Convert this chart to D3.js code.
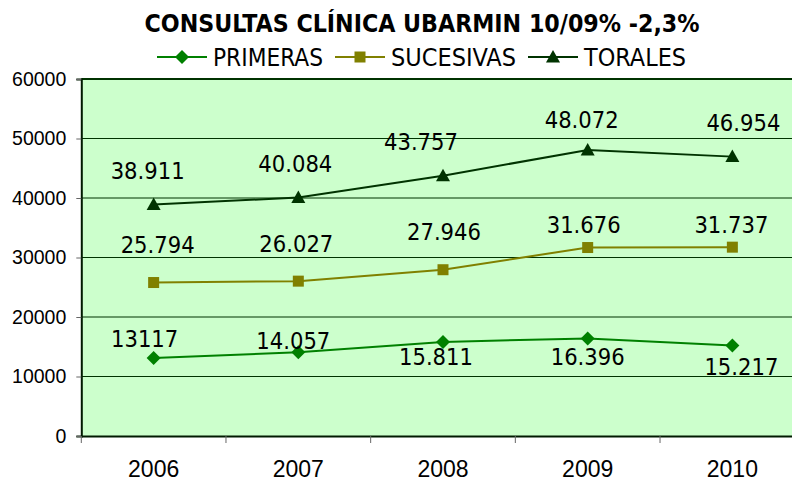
<!DOCTYPE html>
<html><head><meta charset="utf-8">
<script src="https://cdn.jsdelivr.net/npm/d3@7"></script>
<style>
body{margin:0;background:#fff;}
svg{display:block;font-family:"DejaVu Sans Condensed","DejaVu Sans",sans-serif;}
</style></head>
<body>
<svg id="c" width="792" height="484"></svg>
<script>
const years = ["2006","2007","2008","2009","2010"];
const primeras = [13117, 14057, 15811, 16396, 15217];
const sucesivas = [25794, 26027, 27946, 31676, 31737];
const torales = [38911, 40084, 43757, 48072, 46954];
const primerasLabels = ["13117","14.057","15.811","16.396","15.217"];
const sucesivasLabels = ["25.794","26.027","27.946","31.676","31.737"];
const toralesLabels = ["38.911","40.084","43.757","48.072","46.954"];
const yTicks = [0,10000,20000,30000,40000,50000,60000];
const title = "CONSULTAS CLÍNICA UBARMIN 10/09% -2,3%";

// label placement (layout, not data)
const primerasOff = [[-9,-19],[-5,-12],[-7,15],[0,18],[9,21]];
const sucesivasOff = [[4,-38],[-2,-38],[1,-38],[-4,-23],[-1,-23]];
const toralesOff = [[-6,-34],[-3,-34],[-22,-34],[-6,-30],[11,-34]];

const svg = d3.select("#c");
const L = 81.3, R = 804.7, T = 79, B = 436;
const x = d3.scaleBand().domain(years).range([L, R]).padding(0);
const y = d3.scaleLinear().domain([0,60000]).range([B, T]);

svg.append("rect").attr("x",L).attr("y",T).attr("width",R-L).attr("height",B-T).attr("fill","#CCFFCC");

// gridlines
svg.append("g").selectAll("line").data(yTicks.filter(d=>d>0)).join("line")
  .attr("x1",L).attr("x2",R).attr("y1",d=>y(d)).attr("y2",d=>y(d))
  .attr("stroke","#003300").attr("stroke-width",d=>d===60000?2:1);

// y axis
const yAxis = svg.append("g").attr("transform",`translate(${L},0)`)
  .call(d3.axisLeft(y).tickValues(yTicks).tickFormat(d=>String(d)).tickSize(5).tickPadding(10));
yAxis.select(".domain").attr("stroke","#001a00").attr("stroke-width",2);
yAxis.selectAll(".tick line").attr("stroke","#666");
yAxis.selectAll("text").attr("font-size",19.5).attr("fill","#000").attr("font-family","inherit");

// x axis
const xAxis = svg.append("g").attr("transform",`translate(0,${B})`)
  .call(d3.axisBottom(x).tickSize(0).tickPadding(25));
xAxis.select(".domain").attr("stroke","#001a00").attr("stroke-width",2);
xAxis.selectAll("text").attr("font-size",23).attr("fill","#000").attr("font-family","inherit");
// boundary ticks
svg.append("g").selectAll("line").data(years).join("line")
  .attr("x1",d=>x(d)).attr("x2",d=>x(d)).attr("y1",B).attr("y2",B+7)
  .attr("stroke","#666").attr("stroke-width",1);

const series = [
  {name:"PRIMERAS", vals:primeras, labels:primerasLabels, off:primerasOff, color:"#008000", marker:"diamond"},
  {name:"SUCESIVAS", vals:sucesivas, labels:sucesivasLabels, off:sucesivasOff, color:"#808000", marker:"square"},
  {name:"TORALES", vals:torales, labels:toralesLabels, off:toralesOff, color:"#003300", marker:"triangle"}
];
const cx = d => x(d) + x.bandwidth()/2;
function drawMarker(g, type, color){
  if(type==="diamond") g.append("path").attr("d","M0,-7L7,0L0,7L-7,0Z").attr("fill",color);
  else if(type==="square") g.append("rect").attr("x",-5.5).attr("y",-5.5).attr("width",11).attr("height",11).attr("fill",color);
  else g.append("path").attr("d","M0,-7L7,5.5L-7,5.5Z").attr("fill",color);
}
const line = d3.line().x((d,i)=>cx(years[i])).y(d=>y(d));
series.forEach(s=>{
  svg.append("path").datum(s.vals).attr("d",line).attr("fill","none").attr("stroke",s.color).attr("stroke-width",2);
  s.vals.forEach((v,i)=>{
    const g = svg.append("g").attr("transform",`translate(${cx(years[i])},${y(v)})`);
    drawMarker(g, s.marker, s.color);
  });
  svg.append("g").selectAll("text").data(s.vals).join("text")
    .attr("x",(d,i)=>cx(years[i])+s.off[i][0])
    .attr("y",(d,i)=>y(d)+s.off[i][1])
    .attr("dy","0.36em").attr("text-anchor","middle").attr("font-size",23.5).attr("fill","#000")
    .text((d,i)=>s.labels[i]);
});

// title
svg.append("text").attr("x",422).attr("y",32).attr("text-anchor","middle")
  .attr("font-size",24).attr("font-weight","bold").attr("fill","#000")
  .attr("textLength",555).attr("lengthAdjust","spacingAndGlyphs").text(title);

// legend
const legX = [157, 335, 528];
const legW = [110, 125, 102];
series.forEach((s,i)=>{
  const g = svg.append("g").attr("transform",`translate(${legX[i]},57)`);
  g.append("line").attr("x1",0).attr("x2",50).attr("stroke",s.color).attr("stroke-width",2);
  const m = g.append("g").attr("transform","translate(25,0)");
  drawMarker(m, s.marker, s.color);
  g.append("text").attr("x",56).attr("y",0).attr("dy","0.36em").attr("font-size",24).attr("fill","#000")
    .attr("textLength",legW[i]).attr("lengthAdjust","spacingAndGlyphs").text(s.name);
});
</script>
</body></html>
